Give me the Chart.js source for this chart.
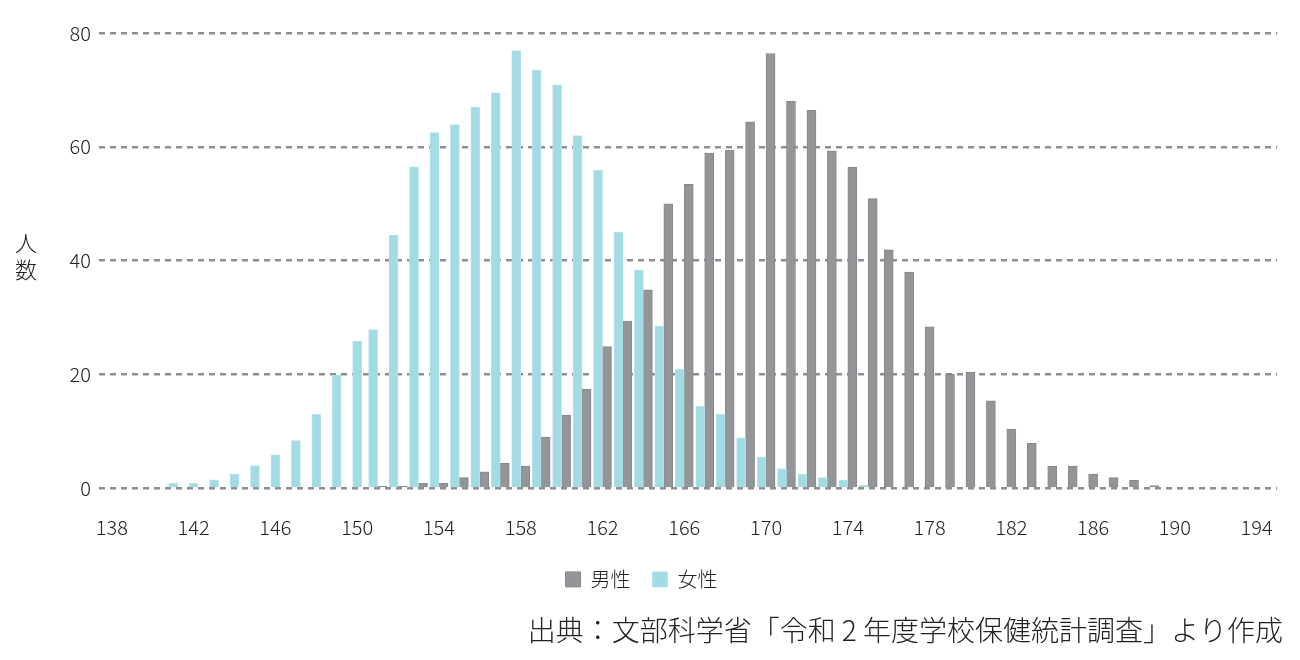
<!DOCTYPE html>
<html>
<head>
<meta charset="utf-8">
<script src="https://cdn.jsdelivr.net/npm/chart.js@4"></script>
<style>
  body { margin: 0; background: #fff; }
  #wrap { width: 1300px; height: 660px; position: relative; }
</style>
</head>
<body>
<div id="wrap"><canvas id="myChart"></canvas></div>
<script>
// 身長(cm)ごとの人数
const heights = [138, 139, 140, 141, 142, 143, 144, 145, 146, 147, 148, 149, 150, 151, 152, 153, 154, 155, 156, 157,
                 158, 159, 160, 161, 162, 163, 164, 165, 166, 167, 168, 169, 170, 171, 172, 173, 174, 175, 176, 177,
                 178, 179, 180, 181, 182, 183, 184, 185, 186, 187, 188, 189, 190, 191, 192, 193, 194];

const female = [null, null, null, 0.9, 0.9, 1.5, 2.5, 4.0, 5.9, 8.4, 13.0, 19.9, 25.9, 27.9, 44.5, 56.5, 62.5, 63.9, 67.0, 69.5,
                76.9, 73.5, 70.9, 62.0, 55.9, 45.0, 38.4, 28.5, 20.9, 14.4, 13.0, 8.9, 5.5, 3.5, 2.5, 1.9, 1.4, 0.6, null, null,
                null, null, null, null, null, null, null, null, null, null, null, null, null, null, null, null, null];

const male = [null, null, null, null, null, null, null, null, null, null, null, null, null, 0.4, 0.4, 0.9, 0.9, 1.9, 2.9, 4.4,
              3.9, 9.0, 12.9, 17.4, 24.9, 29.4, 34.9, 50.0, 53.4, 58.9, 59.4, 64.4, 76.4, 68.0, 66.4, 59.3, 56.4, 50.9, 41.9, 38.0,
              28.4, 20.1, 20.4, 15.4, 10.4, 7.9, 3.9, 3.9, 2.5, 1.9, 1.4, 0.5, null, null, null, null, null];

const xTicks = [138, 142, 146, 150, 154, 158, 162, 166, 170, 174, 178, 182, 186, 190, 194];
const yTicks = [0, 20, 40, 60, 80];

const FONT = "'Noto Sans CJK JP', 'Noto Sans', sans-serif";
const TEXT = '#222222';

// 縦書きの「人数」
const yTitle = {
    id: 'yTitle',
    afterDraw(chart) {
        const ctx = chart.ctx;
        ctx.save();
        ctx.font = '300 22px ' + FONT;
        ctx.fillStyle = TEXT;
        ctx.textAlign = 'center';
        ctx.textBaseline = 'middle';
        ctx.fillText('人', 26, 243);
        ctx.fillText('数', 26, 270);
        ctx.restore();
    }
};

let ctx = document.getElementById('myChart');
let myChart = new Chart(ctx, {
    type: 'bar',
    data: {
        labels: heights,
        datasets: [{
            label: '女性',
            data: female,
            backgroundColor: 'rgb(162,219,227)',
            borderColor: 'rgb(180,228,234)',
            borderWidth: 1
        }, {
            label: '男性',
            data: male,
            backgroundColor: 'rgb(147,149,152)',
            borderColor: 'rgb(134,135,138)',
            borderWidth: 1
        }]
    },
    options: {
        responsive: true,
        maintainAspectRatio: false,
        animation: false,
        skipNull: true,
        barThickness: 9,
        layout: {
            padding: { top: 33, right: 17, bottom: 0, left: 0 }
        },
        scales: {
            x: {
                type: 'linear',
                offset: false,
                min: 137.37,
                max: 195.0,
                grid: { display: false, drawTicks: false },
                border: { display: false },
                afterBuildTicks: function(scale) {
                    scale.ticks = xTicks.map(v => ({ value: v }));
                },
                afterFit: function(scale) {
                    scale.height = 59;
                },
                ticks: {
                    autoSkip: false,
                    maxRotation: 0,
                    padding: 27,
                    color: TEXT,
                    font: { family: FONT, size: 20, weight: 300 },
                    callback: function(value) { return value; }
                }
            },
            y: {
                min: 0,
                max: 80,
                afterBuildTicks: function(scale) {
                    scale.ticks = yTicks.map(v => ({ value: v }));
                },
                afterFit: function(scale) {
                    scale.width = 99;
                },
                grid: {
                    color: 'rgb(142,142,144)',
                    lineWidth: 2.5,
                    drawTicks: false
                },
                border: { display: false, dash: [6, 5] },
                ticks: {
                    padding: 8,
                    color: TEXT,
                    font: { family: FONT, size: 20, weight: 300 }
                }
            }
        },
        plugins: {
            legend: {
                position: 'bottom',
                reverse: true,
                labels: {
                    boxWidth: 15,
                    boxHeight: 15,
                    padding: 22,
                    color: TEXT,
                    font: { family: FONT, size: 20, weight: 300 }
                }
            },
            title: {
                display: true,
                position: 'bottom',
                align: 'end',
                text: '出典：文部科学省「令和 2 年度学校保健統計調査」より作成',
                color: TEXT,
                padding: { top: 14, bottom: 13 },
                font: { family: FONT, size: 28, weight: 300 }
            },
            tooltip: { enabled: false }
        }
    },
    plugins: [yTitle]
});
</script>
</body>
</html>
